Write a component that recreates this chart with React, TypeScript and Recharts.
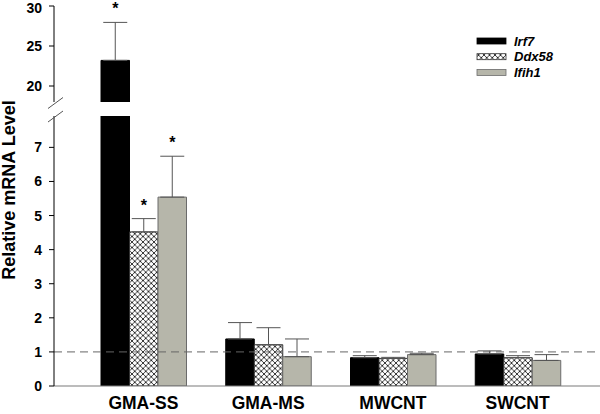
import React from 'react';
import { BarChart, Bar, XAxis, YAxis, ErrorBar, ReferenceLine, LabelList } from 'recharts';

// values; errTop = top of the (one-sided) error bar
const categories = ['GMA-SS', 'GMA-MS', 'MWCNT', 'SWCNT'];
const irf7 = [23.2, 1.38, 0.83, 0.94];
const irf7ErrTop = [27.95, 1.86, 0.89, 1.03];
const irf7Sig = [true, false, false, false];
const ddx58 = [4.52, 1.21, 0.81, 0.83];
const ddx58ErrTop = [4.91, 1.71, 0.84, 0.89];
const ddx58Sig = [true, false, false, false];
const ifih1 = [5.54, 0.86, 0.92, 0.75];
const ifih1ErrTop = [6.74, 1.38, 0.96, 0.92];
const ifih1Sig = [true, false, false, false];
const upperTicks = [20, 25, 30];
const lowerTicks = [0, 1, 2, 3, 4, 5, 6, 7];
const baselineRef = 1;

const FONT = '"Liberation Sans", Arial, Helvetica, sans-serif';

const series = [
  { key: 'irf7', name: 'Irf7', values: irf7, errTop: irf7ErrTop, sig: irf7Sig, fill: '#000000', stroke: '#000000' },
  { key: 'ddx58', name: 'Ddx58', values: ddx58, errTop: ddx58ErrTop, sig: ddx58Sig, fill: 'hatch', stroke: '#333333' },
  { key: 'ifih1', name: 'Ifih1', values: ifih1, errTop: ifih1ErrTop, sig: ifih1Sig, fill: '#b6b6aa', stroke: '#6b6b6b' },
];

function panelData(lo: number, hi: number) {
  return categories.map((c, i) => {
    const row: any = { name: c };
    series.forEach((s) => {
      const v = s.values[i];
      const inRange = v >= lo && v <= hi;
      row[s.key] = v >= lo ? v : null;
      row[s.key + 'Err'] = inRange ? [0, s.errTop[i] - v] : null;
      row[s.key + 'Star'] = inRange && s.sig[i] ? '*' : null;
    });
    return row;
  });
}

function Hatch({ id }: { id: string }) {
  return (
    <defs>
      <pattern id={id} width={5.5} height={5.5} patternUnits="userSpaceOnUse">
        <rect width={5.5} height={5.5} fill="#ffffff" />
        <path d="M-1,-1L6.5,6.5M6.5,-1L-1,6.5" stroke="#222" strokeWidth={0.9} />
      </pattern>
    </defs>
  );
}

// star sits a little above the error bar cap
function starLabel(s: (typeof series)[number], base: number) {
  return (props: any) => {
    const { index, value } = props;
    if (!value) return null;
    const vb = props.viewBox || props;
    const x = vb.x ?? props.x;
    const y = vb.y ?? props.y;
    const width = vb.width ?? props.width;
    const height = vb.height ?? props.height;
    const v = s.values[index];
    const pxPerUnit = height / (v - base);
    const bottom = y + height;
    const errPx = bottom - (s.errTop[index] - base) * pxPerUnit;
    return (
      <text x={x + width / 2} y={errPx - 8} textAnchor="middle" fontFamily={FONT} fontWeight="bold" fontSize={16} fill="#000">
        {value}
      </text>
    );
  };
}

interface PanelProps {
  lo: number;
  hi: number;
  ticks: number[];
  top: number;
  height: number;
  margin: { top: number; bottom: number };
  showX: boolean;
  id: string;
}

function Panel({ lo, hi, ticks, top, height, margin, showX, id }: PanelProps) {
  const data = panelData(lo, hi);
  return (
    <div style={{ position: 'absolute', left: 0, top, width: 600, height }}>
      <BarChart
        width={600}
        height={height}
        data={data}
        margin={{ top: margin.top, right: 0, bottom: margin.bottom, left: 0 }}
        barGap={0}
        barSize={28.5}
      >
        <Hatch id={id} />
        <XAxis
          dataKey="name"
          hide={!showX}
          padding={{ left: 27, right: 20 }}
          height={28}
          tickLine={false}
          tickMargin={5}
          axisLine={{ stroke: '#7a7a7a', strokeWidth: 1.2 }}
          tick={{ fill: '#000', fontSize: 17.5, fontWeight: 'bold', fontFamily: FONT }}
        />
        <YAxis
          type="number"
          domain={[lo, hi]}
          ticks={ticks}
          allowDataOverflow
          width={54}
          tickSize={5}
          tickMargin={7}
          axisLine={{ stroke: '#000' }}
          tickLine={{ stroke: '#000' }}
          tick={{ fill: '#000', fontSize: 14, fontWeight: 'bold', fontFamily: FONT }}
        />
        {series.map((s) => (
          <Bar
            key={s.key}
            dataKey={s.key}
            name={s.name}
            fill={s.fill === 'hatch' ? `url(#${id})` : s.fill}
            stroke={s.stroke}
            strokeWidth={1}
            isAnimationActive={false}
          >
            <ErrorBar dataKey={s.key + 'Err'} direction="y" width={12} stroke="#555" strokeWidth={1} />
            <LabelList dataKey={s.key + 'Star'} content={starLabel(s, lo)} />
          </Bar>
        ))}
        {showX && (
          <ReferenceLine y={baselineRef} stroke="#666" strokeDasharray="8 5" strokeWidth={1} />
        )}
      </BarChart>
    </div>
  );
}

function Overlay() {
  const rowY = [41, 56.7, 72.4];
  return (
    <svg width={600} height={414} style={{ position: 'absolute', left: 0, top: 0, pointerEvents: 'none' }}>
      <Hatch id="hatchLegend" />
      {/* axis break marks */}
      <line x1={48} y1={108.5} x2={63} y2={97.5} stroke="#555" strokeWidth={1} />
      <line x1={48} y1={122} x2={63} y2={111} stroke="#555" strokeWidth={1} />
      <text
        x={15}
        y={190}
        transform="rotate(-90 15 190)"
        textAnchor="middle"
        fontFamily={FONT}
        fontWeight="bold"
        fontSize={18}
        fill="#000"
      >
        Relative mRNA Level
      </text>
      {series.map((s, i) => (
        <g key={s.key}>
          <rect
            x={477}
            y={rowY[i] - 3}
            width={29}
            height={6}
            fill={s.fill === 'hatch' ? 'url(#hatchLegend)' : s.fill}
            stroke={s.stroke}
            strokeWidth={0.8}
          />
          <text
            x={514}
            y={rowY[i] + 4.5}
            fontFamily={FONT}
            fontWeight="bold"
            fontStyle="italic"
            fontSize={13}
            fill="#000"
          >
            {s.name}
          </text>
        </g>
      ))}
    </svg>
  );
}

export default function App() {
  return (
    <div style={{ position: 'absolute', left: 0, top: 0, width: 600, height: 414, background: '#fff', fontFamily: FONT }}>
      <Panel lo={18} hi={30} ticks={upperTicks} top={0} height={110} margin={{ top: 6, bottom: 8 }} showX={false} id="hatchUpper" />
      <Panel lo={0} hi={7.92} ticks={lowerTicks} top={110} height={304} margin={{ top: 6, bottom: 0 }} showX id="hatchLower" />
      <Overlay />
    </div>
  );
}
